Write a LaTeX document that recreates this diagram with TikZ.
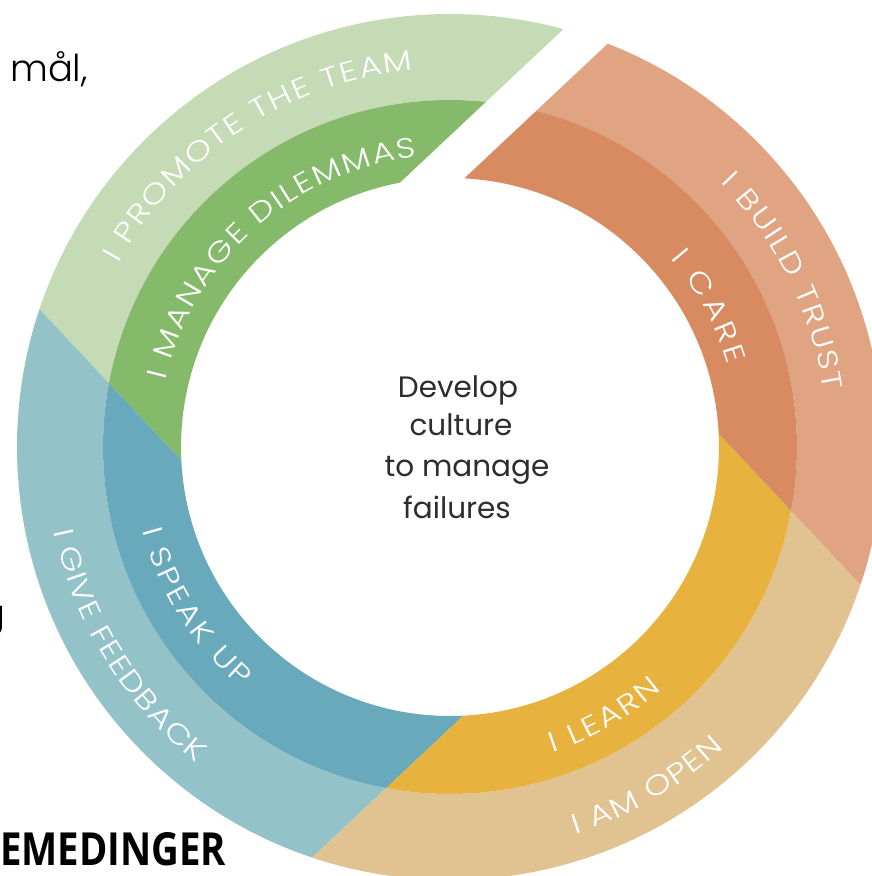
\documentclass[tikz,border=0pt]{standalone}
\usepackage{fontspec}
\setmainfont{Poppins}
\IfFontExistsTF{Poppins Light}{\newfontfamily\ringfont[FakeStretch=1.22]{Poppins Light}\newfontfamily\sidefont{Poppins Light}}{\newfontfamily\ringfont[FakeStretch=1.22]{Poppins}\newfontfamily\sidefont{Poppins}}
\newfontfamily\midfont{Poppins}
\newfontfamily\headfont{Open Sans}
\usetikzlibrary{decorations.text}
\definecolor{lgreen}{RGB}{197,219,181}
\definecolor{dgreen}{RGB}{133,186,107}
\definecolor{lblue}{RGB}{147,195,200}
\definecolor{dblue}{RGB}{104,170,187}
\definecolor{ltan}{RGB}{225,195,146}
\definecolor{dyellow}{RGB}{232,178,63}
\definecolor{lorange}{RGB}{225,164,131}
\definecolor{dorange}{RGB}{216,139,97}
\definecolor{centertext}{RGB}{45,45,45}
\newcommand{\rfnt}{\ringfont\fontsize{28}{30}\selectfont}
\tikzset{
  ringlabel/.style={decorate, decoration={text along path, text align={fit to path}, text color=white, text={|\rfnt|#1}}},
  centerline/.style={anchor=base, inner sep=0pt, text=centertext, font=\midfont\fontsize{29.5}{32}\selectfont},
  sidetext/.style={anchor=base west, inner sep=0pt, text=black, font=\sidefont\fontsize{37}{40}\selectfont}
}
\newcommand{\Rin}{269}
\newcommand{\Rmid}{347}
\newcommand{\Rout}{433}
\begin{document}
\begin{tikzpicture}[x=1pt,y=1pt]
\useasboundingbox (-450,-429) rectangle (421,447);
\fill[white] (-450,-429) rectangle (421,447);
\begin{scope}[rotate=43.2]
  % green
  \begin{scope}
    \clip (-205,0) -- (-205,1000) -- (1000,1000) -- (1000,227) -- (0,227) -- (0,0) -- cycle;
    \fill[lgreen, even odd rule] (0,0) circle (\Rout) (0,0) circle (\Rmid);
    \fill[dgreen, even odd rule] (0,0) circle (\Rmid) (0,0) circle (\Rin);
  \end{scope}
  % blue
  \begin{scope}
    \clip (0,-205) -- (-1000,-205) -- (-1000,1000) -- (-205,1000) -- (-205,0) -- (0,0) -- cycle;
    \fill[lblue, even odd rule] (0,0) circle (\Rout) (0,0) circle (\Rmid);
    \fill[dblue, even odd rule] (0,0) circle (\Rmid) (0,0) circle (\Rin);
  \end{scope}
  % yellow
  \begin{scope}
    \clip (205,0) -- (205,-1000) -- (-1000,-1000) -- (-1000,-205) -- (0,-205) -- (0,0) -- cycle;
    \fill[ltan, even odd rule] (0,0) circle (\Rout) (0,0) circle (\Rmid);
    \fill[dyellow, even odd rule] (0,0) circle (\Rmid) (0,0) circle (\Rin);
  \end{scope}
  % orange
  \begin{scope}
    \clip (0,186) -- (1000,186) -- (1000,-1000) -- (205,-1000) -- (205,0) -- (0,0) -- cycle;
    \fill[lorange, even odd rule] (0,0) circle (\Rout) (0,0) circle (\Rmid);
    \fill[dorange, even odd rule] (0,0) circle (\Rmid) (0,0) circle (\Rin);
  \end{scope}
\end{scope}
% ring labels (top: clockwise, bottom: counter-clockwise)
\path[ringlabel={I PROMOTE THE TEAM}] (151:379) arc[start angle=151, end angle=95.6, radius=379];
\path[ringlabel={I MANAGE DILEMMAS}] (166.8:292) arc[start angle=166.8, end angle=96.5, radius=292];
\path[ringlabel={I BUILD TRUST}] (44.3:378) arc[start angle=44.3, end angle=8.5, radius=378];
\path[ringlabel={I CARE}] (40.5:290) arc[start angle=40.5, end angle=16.5, radius=290];
\path[ringlabel={I GIVE FEEDBACK}] (192:405) arc[start angle=192, end angle=231.3, radius=405];
\path[ringlabel={I SPEAK UP}] (195.2:319) arc[start angle=195.2, end angle=229, radius=319];
\path[ringlabel={I LEARN}] (288.5:322) arc[start angle=288.5, end angle=311, radius=322];
\path[ringlabel={I AM OPEN}] (288:407) arc[start angle=288, end angle=312.3, radius=407];
% centre text
\node[centerline] (c1) at (8,50) {Develop};
\node[centerline] (c2) at (11,12) {culture};
\node[centerline] (c3) at (17,-29) {to manage};
\node[centerline] (c4) at (7,-71) {failures};
% clipped text on the left
\node[sidetext] (t1) at (-440,365) {mål,};
\node[anchor=base east, inner sep=0pt, text=black, font=\sidefont\fontsize{37}{40}\selectfont] (t2) at (-444,-179) {g};
\node[anchor=base west, inner sep=0pt, text=black] (t3) at (-450,-418) {\resizebox{226pt}{33pt}{\headfont\bfseries EMEDINGER}};
\end{tikzpicture}
\end{document}
